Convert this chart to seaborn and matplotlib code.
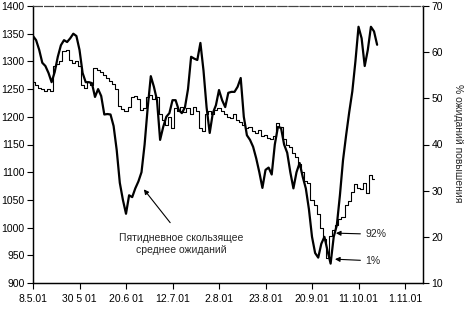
import numpy as np
import pandas as pd
import matplotlib
matplotlib.use("Agg")
import matplotlib.pyplot as plt
import seaborn as sns

# ---- data (trading-day index from 8.5.01) ----
price_close = [1262, 1258, 1252, 1250, 1246, 1250, 1247, 1292, 1296, 1300,
               1318, 1320, 1302, 1298, 1300, 1292, 1258, 1252, 1262, 1258,
               1288, 1284, 1280, 1276, 1270, 1265, 1260, 1250, 1220, 1214,
               1210, 1218, 1236, 1238, 1232, 1212, 1216, 1236, 1240, 1232,
               1236, 1205, 1195, 1185, 1200, 1180, 1215, 1210, 1218, 1208,
               1215, 1205, 1218, 1210, 1180, 1175, 1205, 1210, 1205, 1212,
               1215, 1210, 1205, 1200, 1198, 1205, 1195, 1190, 1185, 1180,
               1182, 1175, 1170, 1176, 1165, 1168, 1162, 1160, 1165, 1188,
               1182, 1160, 1150, 1145, 1135, 1128, 1115, 1100, 1085, 1080,
               1050, 1040, 1025, 1000, 980, 945, 985, 995, 1005, 1015,
               1020, 1040, 1048, 1065, 1078, 1072, 1070, 1080, 1062, 1095,
               1088]
expect_ma5 = [63.5, 62.6, 60.5, 57.7, 57.0, 55.5, 53.5, 55.7, 59.0, 61.5,
              62.6, 62.2, 63.0, 64.0, 63.5, 60.5, 55.5, 53.5, 53.5, 53.3,
              50.3, 52.0, 50.5, 46.5, 46.6, 46.5, 44.0, 38.8, 31.7, 28.0,
              25.0, 29.0, 28.6, 30.5, 32.0, 34.0, 40.0, 48.0, 54.8, 52.5,
              49.6, 41.0, 43.8, 46.0, 46.8, 49.6, 49.6, 47.5, 46.8, 48.0,
              52.0, 59.0, 58.6, 58.3, 62.0, 56.0, 48.0, 42.5, 46.8, 48.5,
              51.8, 49.6, 48.1, 51.2, 51.4, 51.4, 52.5, 54.4, 46.0, 42.0,
              41.0, 39.5, 37.0, 34.0, 30.6, 34.5, 35.0, 33.5, 40.0, 43.8,
              43.6, 40.0, 38.2, 34.0, 30.5, 34.0, 36.0, 33.0, 30.5, 26.0,
              20.0, 16.5, 15.5, 18.5, 20.0, 17.0, 14.2, 20.0, 22.5, 29.0,
              36.6, 42.0, 47.0, 51.5, 58.0, 65.5, 63.0, 57.0, 60.5, 65.5,
              64.5, 61.6]
date_labels = ["8.5.01", "30 5 01", "20.6 01", "12.7.01", "2.8.01",
               "23.8.01", "20.9.01", "11.10.01", "1.11.01"]
left_ticks = [900, 950, 1000, 1050, 1100, 1150, 1200, 1250, 1300, 1350, 1400]
right_ticks = [10, 20, 30, 40, 50, 60, 70]

df_p = pd.DataFrame({"day": np.arange(len(price_close)), "price": price_close})
df_e = pd.DataFrame({"day": np.arange(len(expect_ma5)), "exp": expect_ma5})

sns.set_style("ticks")
plt.rcParams["font.family"] = ["Liberation Sans", "DejaVu Sans"]
plt.rcParams["font.size"] = 7.5

fig = plt.figure(figsize=(4.67, 3.09), dpi=100)
ax = fig.add_axes([33/467, 1-283/309, (423-33)/467, (283-6)/309])
ax2 = ax.twinx()

sns.lineplot(data=df_p, x="day", y="price", ax=ax, color="black",
             linewidth=0.8, drawstyle="steps-mid")
sns.lineplot(data=df_e, x="day", y="exp", ax=ax2, color="black",
             linewidth=1.6)

ax.set_xlim(0, 125.8)
ax.set_ylim(900, 1400)
ax2.set_ylim(10, 70)
ax.set_xticks(np.arange(len(date_labels)) * 15)
ax.set_xticklabels(date_labels)
ax.set_yticks(left_ticks)
ax2.set_yticks(right_ticks)
ax.set_xlabel("")
ax.set_ylabel("")
ax2.set_ylabel("")

for a in (ax, ax2):
    a.tick_params(length=4, width=0.8, color="black", labelcolor="black",
                  labelsize=7.5, pad=2)
    for s in ("left", "right", "bottom"):
        a.spines[s].set_color("black")
        a.spines[s].set_linewidth(0.9)
    a.spines["top"].set_color("#444444")
    a.spines["top"].set_linewidth(0.8)
    a.spines["top"].set_linestyle((0, (8, 2)))
ax.tick_params(axis="x", pad=4)

fig.text(458/467, 1-143/309, "% ожиданий повышения", rotation=270,
         ha="center", va="center", fontsize=7.5)

ax.annotate("", xy=(35.2, 1073), xytext=(44.8, 1005),
            arrowprops=dict(arrowstyle="-|>", color="black", lw=0.8,
                            mutation_scale=7))
ax.text(47.7, 970, "Пятидневное скользящее\nсреднее ожиданий",
        ha="center", va="center", fontsize=7.5, linespacing=1.25)
ax.annotate("92%", xy=(97.7, 990), xytext=(107.1, 988),
            va="center", ha="left", fontsize=7.5,
            arrowprops=dict(arrowstyle="-|>", color="black", lw=0.8,
                            mutation_scale=7, shrinkA=1, shrinkB=0))
ax.annotate("1%", xy=(97.4, 943), xytext=(107.1, 940),
            va="center", ha="left", fontsize=7.5,
            arrowprops=dict(arrowstyle="-|>", color="black", lw=0.8,
                            mutation_scale=7, shrinkA=1, shrinkB=0))

fig.savefig("out.png", dpi=100)
